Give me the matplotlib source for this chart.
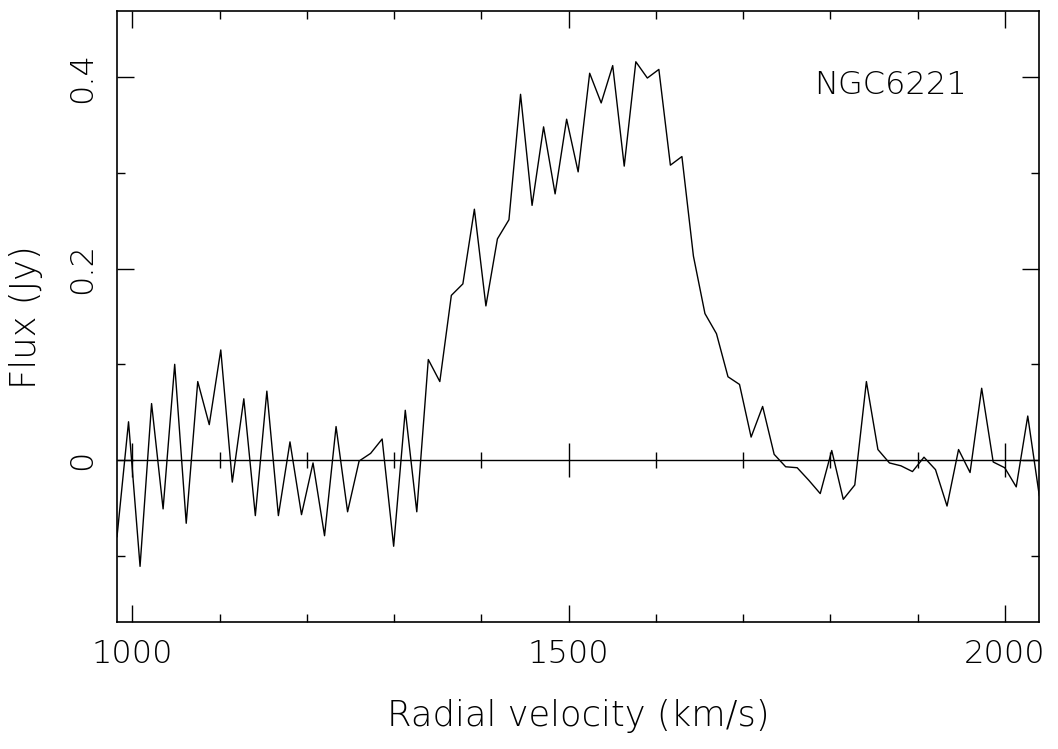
import numpy as np
import matplotlib
matplotlib.use("Agg")
import matplotlib.pyplot as plt
from matplotlib.ticker import MultipleLocator

# channel velocities (km/s)
velocity = [982.5, 995.7, 1008.9, 1022.1, 1035.3, 1048.6, 1061.8, 1075.0, 1088.2, 1101.4,
            1114.6, 1127.8, 1141.0, 1154.2, 1167.4, 1180.7, 1193.9, 1207.1, 1220.3, 1233.5,
            1246.7, 1259.9, 1273.1, 1286.3, 1299.5, 1312.8, 1326.0, 1339.2, 1352.4, 1365.6,
            1378.8, 1392.0, 1405.2, 1418.4, 1431.6, 1444.9, 1458.1, 1471.3, 1484.5, 1497.7,
            1510.9, 1524.1, 1537.3, 1550.5, 1563.7, 1577.0, 1590.2, 1603.4, 1616.6, 1629.8,
            1643.0, 1656.2, 1669.4, 1682.6, 1695.8, 1709.1, 1722.3, 1735.5, 1748.7, 1761.9,
            1775.1, 1788.3, 1801.5, 1814.7, 1827.9, 1841.2, 1854.4, 1867.6, 1880.8, 1894.0,
            1907.2, 1920.4, 1933.6, 1946.8, 1960.0, 1973.3, 1986.5, 1999.7, 2012.9, 2026.1,
            2039.3]

# flux density (Jy)
flux = [-0.080, 0.040, -0.111, 0.059, -0.051, 0.100, -0.066, 0.082, 0.037, 0.115,
        -0.023, 0.064, -0.058, 0.072, -0.058, 0.019, -0.057, -0.003, -0.079, 0.035,
        -0.054, -0.001, 0.007, 0.022, -0.090, 0.052, -0.054, 0.105, 0.082, 0.172,
        0.184, 0.262, 0.161, 0.231, 0.251, 0.382, 0.266, 0.348, 0.278, 0.356,
        0.301, 0.404, 0.373, 0.412, 0.307, 0.416, 0.399, 0.408, 0.308, 0.317,
        0.213, 0.153, 0.132, 0.087, 0.079, 0.024, 0.056, 0.006, -0.007, -0.008,
        -0.021, -0.035, 0.010, -0.041, -0.026, 0.082, 0.011, -0.003, -0.006, -0.012,
        0.003, -0.010, -0.048, 0.011, -0.013, 0.075, -0.002, -0.008, -0.028, 0.046,
        -0.037]

galaxy = "NGC6221"

plt.rcParams['font.family'] = ['DejaVu Sans']
plt.rcParams['font.weight'] = 'light'

fig = plt.figure(figsize=(10.58, 7.49), dpi=100)
ax = fig.add_axes([0.1106, 0.1692, 0.8717, 0.8161])

ax.plot(velocity, flux, color="black", linewidth=1.0)
ax.axhline(0, color="black", linewidth=1.0)

ax.set_xlim(982.5, 2039.3)
ax.set_ylim(-0.1694, 0.469)

ax.xaxis.set_major_locator(MultipleLocator(500))
ax.xaxis.set_minor_locator(MultipleLocator(100))
ax.yaxis.set_major_locator(MultipleLocator(0.2))
ax.yaxis.set_minor_locator(MultipleLocator(0.1))
ax.yaxis.set_major_formatter(plt.FuncFormatter(lambda v, p: "0" if abs(v) < 1e-9 else "%g" % v))

ax.tick_params(which="both", direction="in", top=True, right=True, width=1.0, color="black")
ax.tick_params(which="major", length=12)
ax.tick_params(which="minor", length=6)
ax.tick_params(axis="x", labelsize=23, pad=12)
ax.tick_params(axis="y", labelsize=23, pad=14)
for lab in ax.get_yticklabels():
    lab.set_rotation(90)
    lab.set_va("center")

# ticks crossing the zero line
lo, hi = ax.get_xlim()
maj = [t for t in ax.xaxis.get_majorticklocs() if lo <= t <= hi]
mnr = [t for t in ax.xaxis.get_minorticklocs() if lo <= t <= hi and t not in maj]
ax.plot(maj, np.zeros(len(maj)), ls="none", marker="|", ms=24, mew=1.0, color="black")
ax.plot(mnr, np.zeros(len(mnr)), ls="none", marker="|", ms=12, mew=1.0, color="black")

for s in ax.spines.values():
    s.set_linewidth(1.2)

ax.set_xlabel("Radial velocity (km/s)", fontsize=25.5, fontweight="light", labelpad=22)
ax.set_ylabel("Flux (Jy)", fontsize=25.5, fontweight="light", labelpad=18)

ax.text(0.839, 0.879, galaxy, transform=ax.transAxes, fontsize=23,
        ha="center", va="center")

fig.savefig("out.png", dpi=100)
